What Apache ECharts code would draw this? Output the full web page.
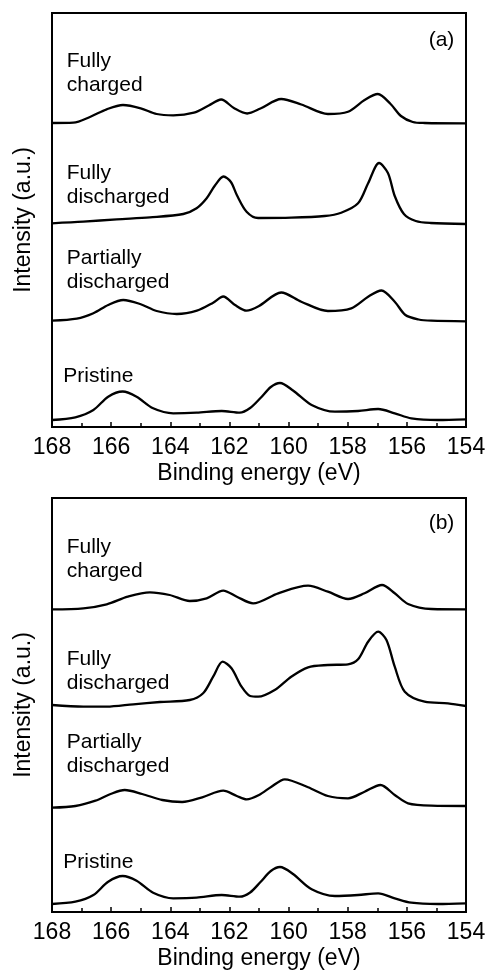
<!DOCTYPE html>
<html><head><meta charset="utf-8">
<script src="https://cdn.jsdelivr.net/npm/echarts@6/dist/echarts.min.js"></script>
<style>html,body{margin:0;padding:0;background:#fff}#c{width:489px;height:978px}</style>
</head><body><div id="c"></div>
<script>
// Binding energy tick values (eV)
const xTicks = [168, 166, 164, 162, 160, 158, 156, 154];
const panelNames = ['(a)', '(b)'];
const curveLabels = ['Fully\ncharged', 'Fully\ndischarged', 'Partially\ndischarged', 'Pristine'];

// Panel (a) spectra: [binding energy, stacked intensity (a.u.)]
const aFullyCharged = [[168,304],[167.28,304.3],[166.7,310.3],[166.15,317.7],[165.6,322],[165.0,318.7],[164.46,313],[163.9,311.7],[163.2,314.3],[162.7,321.5],[162.28,327.5],[161.85,319],[161.4,313.5],[160.95,318.5],[160.25,328],[159.57,322.5],[158.67,313],[157.99,315.3],[157.43,327],[156.98,333],[156.55,323],[156.2,311],[155.8,305],[155.4,304],[154,303.7]];
const aFullyDischarged = [[168,203.7],[166.94,205.3],[165.81,207.7],[164.69,209.7],[163.56,213],[163.11,218.7],[162.77,228.7],[162.49,241.5],[162.2,250.5],[161.95,245],[161.75,232],[161.42,215.3],[161.03,209],[159.91,209.3],[158.78,211],[158.22,214.3],[157.65,223.7],[157.31,243.7],[156.94,264],[156.64,254],[156.41,231],[156.1,213],[155.7,206],[155.2,204],[154,203]];
const aPartiallyDischarged = [[168,106.3],[167.16,108.3],[166.6,113.7],[166.1,122],[165.59,127],[165.02,123],[164.46,116],[163.78,113],[163.1,116.3],[162.55,124.3],[162.21,130.5],[161.81,122],[161.42,116.3],[161.0,121],[160.25,134.5],[159.57,125.3],[158.67,116],[157.88,118.7],[157.31,130.3],[156.86,136.5],[156.41,125.3],[156.05,112],[155.6,107.5],[155.17,106.3],[154,105.7]];
const aPristine = [[168,7],[167.21,9.7],[166.6,17],[166.1,30.3],[165.61,35.5],[165.14,30.3],[164.58,18.7],[163.9,13.7],[163.11,14.3],[162.26,16],[161.65,14.3],[161.3,19],[160.95,29],[160.6,40],[160.29,44],[159.85,36.5],[159.22,22],[158.43,15.3],[157.65,16],[156.97,18],[156.41,13.7],[155.85,8.7],[154.95,7],[154,7.7]];

// Panel (b) spectra
const bFullyCharged = [[168,302.7],[166.94,303.7],[166.15,307.7],[165.44,315.3],[164.69,319.7],[164.02,317],[163.34,311],[162.77,313.7],[162.21,321.3],[161.75,315.3],[161.2,308.6],[160.35,318.7],[159.34,326.3],[158.67,320.3],[157.99,313],[157.43,318.7],[156.84,327],[156.41,318.7],[155.96,308],[155.17,303],[154,302.7]];
const bFullyDischarged = [[168,207],[166.94,205.3],[166.15,205.3],[165.25,207.7],[164.35,210],[163.34,212],[162.89,218.7],[162.55,235.3],[162.23,250.3],[161.93,243.7],[161.59,225.3],[161.3,216],[161.03,215.3],[160.47,222],[159.91,235.3],[159.34,244.7],[158.67,247],[157.99,247.7],[157.65,252.7],[157.31,270.3],[156.97,280.3],[156.69,272],[156.41,245.3],[156.07,220.3],[155.4,210.3],[154.61,208.7],[154,206]];
const bPartiallyDischarged = [[168,104.3],[167.21,106],[166.53,111.3],[166.02,118],[165.54,122],[164.95,118],[164.27,112],[163.6,110],[162.92,114.7],[162.21,121.3],[161.75,116],[161.42,112.7],[161.0,117],[160.58,125.3],[160.13,132.7],[159.34,124.7],[158.67,116],[157.99,113.7],[157.43,120.3],[156.89,127],[156.41,117],[155.96,108.7],[155.17,106.3],[154,106]];
const bPristine = [[168,8],[167.21,10.3],[166.6,17],[166.1,30.3],[165.61,36],[165.14,31.3],[164.58,19.3],[163.9,13.7],[163.11,14.3],[162.26,17],[161.65,15.3],[161.3,19.5],[160.95,30],[160.6,41],[160.29,45],[159.85,38],[159.22,22.7],[158.43,16],[157.65,17],[156.97,18.7],[156.41,13.7],[155.85,9.3],[154.95,8],[154,8.7]];

const panels = [
  [aFullyCharged, aFullyDischarged, aPartiallyDischarged, aPristine],
  [bFullyCharged, bFullyDischarged, bPartiallyDischarged, bPristine]
];

const FONT = '"Liberation Sans", Arial, Helvetica, sans-serif';
const gridTops = [13, 498];
const GRID_LEFT = 52, GRID_W = 414, GRID_H = 414;

const grids = gridTops.map(t => ({
  left: GRID_LEFT, top: t, width: GRID_W, height: GRID_H,
  show: true, borderColor: '#000', borderWidth: 2, backgroundColor: 'transparent'
}));

const xAxes = gridTops.map((t, i) => ({
  type: 'value', gridIndex: i,
  min: Math.min(...xTicks), max: Math.max(...xTicks), interval: 2, inverse: true,
  name: 'Binding energy (eV)', nameLocation: 'middle', nameGap: 35,
  nameTextStyle: { fontFamily: FONT, fontSize: 23, color: '#000' },
  axisLine: { show: true, lineStyle: { color: '#000', width: 2 } },
  axisTick: { show: true, inside: true, length: 5, lineStyle: { color: '#000', width: 1.5 } },
  minorTick: { show: true, splitNumber: 2, length: 4, lineStyle: { color: '#000', width: 1.5 } },
  axisLabel: { fontFamily: FONT, fontSize: 23, color: '#000', margin: 9 },
  splitLine: { show: false }
}));

const yAxes = gridTops.map((t, i) => ({
  type: 'value', gridIndex: i, min: 0, max: GRID_H,
  name: 'Intensity (a.u.)', nameLocation: 'middle', nameGap: 17,
  nameTextStyle: { fontFamily: FONT, fontSize: 23, color: '#000' },
  axisLine: { show: true, lineStyle: { color: '#000', width: 2 } },
  axisTick: { show: false }, axisLabel: { show: false }, splitLine: { show: false }
}));

const series = [];
panels.forEach((curves, p) => {
  curves.forEach((d, k) => {
    series.push({
      type: 'line', xAxisIndex: p, yAxisIndex: p, data: d,
      smooth: 0.3, symbol: 'none', silent: true,
      lineStyle: { color: '#000', width: 2.3, join: 'round' }
    });
  });
});

// label text blocks (line-1 top positions, px)
const labelTops = [[49, 161, 246, 364], [535, 647, 730, 850]];
const labelLefts = [66.7, 66.7, 66.7, 63.3];
const panelLabelY = [40, 523];
const graphic = [];
labelTops.forEach((tops, p) => {
  tops.forEach((top, k) => {
    graphic.push({
      type: 'text', x: labelLefts[k], y: top, silent: true,
      style: { text: curveLabels[k], font: '21px ' + FONT, fill: '#000', lineHeight: 24,
               align: 'left', verticalAlign: 'top', textAlign: 'left', textVerticalAlign: 'top' }
    });
  });
  graphic.push({
    type: 'text', x: 441.5, y: panelLabelY[p], silent: true,
    style: { text: panelNames[p], font: '21px ' + FONT, fill: '#000',
             align: 'center', verticalAlign: 'middle', textAlign: 'center', textVerticalAlign: 'middle' }
  });
});

const chart = echarts.init(document.getElementById('c'), null, { renderer: 'canvas' });
chart.setOption({
  animation: false,
  backgroundColor: '#fff',
  grid: grids, xAxis: xAxes, yAxis: yAxes, series: series, graphic: graphic
});
</script>
</body></html>
